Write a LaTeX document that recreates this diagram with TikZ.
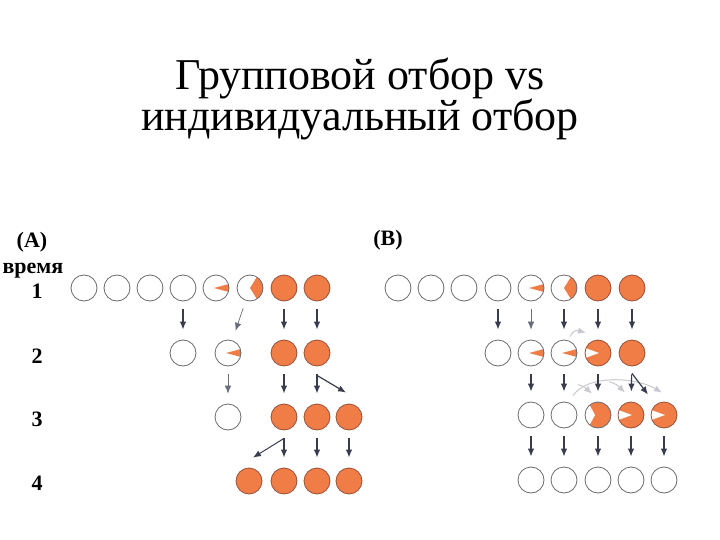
\documentclass[tikz,border=0pt]{standalone}
\usepackage{fontspec}
\setmainfont{Liberation Serif}
\newfontfamily\headfont{Liberation Serif}
\usetikzlibrary{calc,arrows.meta}
\definecolor{orng}{RGB}{240,124,70}
\definecolor{rim}{RGB}{150,80,58}
\definecolor{ring}{RGB}{105,105,112}
\definecolor{arrowc}{RGB}{58,60,78}
\definecolor{ghostc}{RGB}{200,200,206}
\tikzset{
  >={Latex[length=8pt,width=6.5pt]},
}
\tikzstyle{cell}=[circle,draw=ring,line width=0.8pt,minimum size=26pt,inner sep=0pt]
\tikzstyle{full}=[cell,draw=rim,fill=orng]
\tikzstyle{wedge}=[cell,path picture={\fill[orng] ($(path picture bounding box.center)+(-2,0)$) -- +(15:17) -- +(-15:17) -- cycle;}]
\tikzstyle{half}=[cell,path picture={\fill[orng] (path picture bounding box.center) -- +(58:13) -- +(40:30) -- +(-40:30) -- +(-58:13) -- cycle;}]
\tikzstyle{mouth}=[full,path picture={\fill[white] ($(path picture bounding box.center)+(1,0)$) -- +(160:17) -- +(200:17) -- cycle;}]
\tikzstyle{notch}=[full,draw=ring,path picture={\fill[white] (path picture bounding box.center) ++(-3,0) -- ++(-5.4,10) -- ++(-20,0) -- ++(0,-20) -- ++(20,0) -- cycle;}]
\tikzstyle{gen}=[->,draw=arrowc,line width=1.2pt,shorten <=8pt,shorten >=10pt]
\tikzstyle{faint}=[gen,line width=0.7pt,draw=arrowc!75]
\tikzstyle{fork}=[->,draw=arrowc,line width=1.2pt]
\tikzstyle{ghost}=[->,draw=ghostc,line width=1pt]
\tikzstyle{lbl}=[font=\fontsize{22}{24}\selectfont\bfseries,inner sep=0pt]

\begin{document}
\begin{tikzpicture}[x=1pt,y=-1pt]
  \useasboundingbox (0,0) rectangle (720,540);
  \node[align=center,inner sep=0pt,font=\headfont\fontsize{44}{39}\selectfont] (title) at (360,99)
    {Групповой отбор vs\\индивидуальный отбор};

  % (A) group selection
  \node[lbl] (pa) at (32,242) {(A)};
  \node[lbl] (time) at (33,271) {время};
  \node[lbl] (t1) at (37,291) {1};
  \node[lbl] (t2) at (37,356) {2};
  \node[lbl] (t3) at (37,419) {3};
  \node[lbl] (t4) at (37,483) {4};

  \node[cell]  (a1a) at (84,288) {};
  \node[cell]  (a1b) at (117,288) {};
  \node[cell]  (a1c) at (150,288) {};
  \node[cell]  (a1d) at (183,288) {};
  \node[wedge] (a1e) at (216,288) {};
  \node[half]  (a1f) at (250,288) {};
  \node[full]  (a1g) at (284,288) {};
  \node[full]  (a1h) at (317,288) {};

  \node[cell]  (a2a) at (183,353) {};
  \node[wedge] (a2b) at (228,353) {};
  \node[full]  (a2c) at (284,353) {};
  \node[full]  (a2d) at (317,353) {};

  \node[cell]  (a3a) at (228,417) {};
  \node[full]  (a3b) at (284,417) {};
  \node[full]  (a3c) at (317,417) {};
  \node[full]  (a3d) at (349,417) {};

  \node[full]  (a4a) at (249,481) {};
  \node[full]  (a4b) at (284,481) {};
  \node[full]  (a4c) at (317,481) {};
  \node[full]  (a4d) at (349,481) {};

  \draw[gen] (a1d) -- (a2a);
  \draw[faint] (a1f) -- (a2b);
  \draw[gen] (a1g) -- (a2c);
  \draw[gen] (a1h) -- (a2d);
  \draw[faint] (a2b) -- (a3a);
  \draw[gen] (a2c) -- (a3b);
  \draw[gen] (a2d) -- (a3c);
  \draw[fork] ($(a2d.south)+(0,9)$) -- ($(a3d.north)+(-3,-11)$);
  \draw[fork,line width=1pt] ($(a3b.south)+(0,8)$) -- ($(a4a.north)+(4,-10)$);
  \draw[gen] (a3b) -- (a4b);
  \draw[gen] (a3c) -- (a4c);
  \draw[gen] (a3d) -- (a4d);

  % (B) individual selection
  \node[lbl] (pb) at (388,240) {(B)};

  \node[cell]  (b1a) at (398,288) {};
  \node[cell]  (b1b) at (431,288) {};
  \node[cell]  (b1c) at (464,288) {};
  \node[cell]  (b1d) at (498,288) {};
  \node[wedge] (b1e) at (531,288) {};
  \node[half]  (b1f) at (564,288) {};
  \node[full]  (b1g) at (598,288) {};
  \node[full]  (b1h) at (632,288) {};

  \node[cell]  (b2a) at (498,353) {};
  \node[wedge] (b2b) at (531,353) {};
  \node[wedge] (b2c) at (564,353) {};
  \node[mouth] (b2d) at (598,353) {};
  \node[full]  (b2e) at (632,353) {};

  \node[cell]  (b3a) at (531,415) {};
  \node[cell]  (b3b) at (564,415) {};
  \node[notch] (b3c) at (598,415) {};
  \node[mouth] (b3d) at (631,415) {};
  \node[mouth] (b3e) at (664,415) {};

  \node[cell]  (b4a) at (531,480) {};
  \node[cell]  (b4b) at (564,480) {};
  \node[cell]  (b4c) at (598,480) {};
  \node[cell]  (b4d) at (631,480) {};
  \node[cell]  (b4e) at (664,480) {};

  \draw[gen] (b1d) -- (b2a);
  \draw[faint] (b1e) -- (b2b);
  \draw[gen] (b1f) -- (b2c);
  \draw[gen] (b1g) -- (b2d);
  \draw[gen] (b1h) -- (b2e);
  \draw[ghost] ($(b2d.north)+(-28,-3)$) .. controls +(4,-8) and +(-8,-2) .. ($(b2d.north)+(-12,-7)$);

  \draw[ghost] ($(b3b.north)+(9,-6)$) .. controls +(15,-22) and +(-25,-15) .. ($(b3e.north)+(-2,-9)$);
  \draw[ghost] ($(b3c.north)+(-20,-17)$) .. controls +(6,2) .. ($(b3c.north)+(-6,-8)$);
  \draw[ghost] ($(b3d.north)+(-22,-20)$) .. controls +(8,3) .. ($(b3d.north)+(-6,-9)$);
  \draw[gen] (b2b) -- (b3a);
  \draw[gen] (b2c) -- (b3b);
  \draw[gen] (b2d) -- (b3c);
  \draw[gen] (b2e) -- (b3d);
  \draw[fork] ($(b2e.south)+(0,7)$) -- ($(b3e.north)+(-16,-7)$);

  \draw[gen] (b3a) -- (b4a);
  \draw[gen] (b3b) -- (b4b);
  \draw[gen] (b3c) -- (b4c);
  \draw[gen] (b3d) -- (b4d);
  \draw[gen] (b3e) -- (b4e);
\end{tikzpicture}
\end{document}
